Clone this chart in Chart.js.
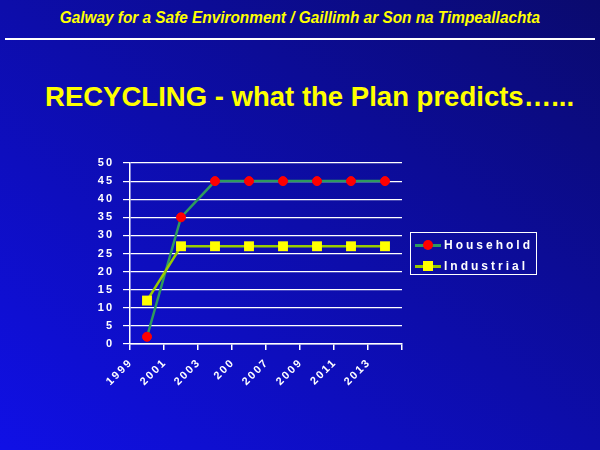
<!DOCTYPE html>
<html>
<head>
<meta charset="utf-8">
<script src="https://cdn.jsdelivr.net/npm/chart.js@4/dist/chart.umd.min.js"></script>
<style>
  html, body { margin: 0; padding: 0; }
  body {
    width: 600px; height: 450px; overflow: hidden; position: relative;
    background: linear-gradient(to bottom left, #0a0a6e, #1010e6);
    font-family: "Liberation Sans", Arial, sans-serif;
  }
  #header {
    position: absolute; left: 0; width: 600px; top: 10px;
    text-align: center; color: #ffff00; font-size: 16px; line-height: 16px;
    font-weight: bold; font-style: italic; letter-spacing: 0px; white-space: nowrap;
    transform: scaleX(0.96); transform-origin: 297px 0;
  }
  #rule { position: absolute; left: 5px; width: 590px; top: 38px; height: 2px; background: #fff; }
  #title {
    position: absolute; left: 45px; top: 83px; color: #ffff00; font-size: 28px; line-height: 28px;
    font-weight: bold; white-space: nowrap; transform: scaleX(0.983); transform-origin: 0 0;
  }
  #chart { position: absolute; left: 0; top: 0; }
  #legend {
    position: absolute; left: 410px; top: 232px; width: 125px; height: 41px;
    border: 1px solid #fff;
  }
  .item { position: absolute; left: 4px; height: 12px; width: 120px; }
  .line { position: absolute; left: 0; top: 5px; width: 26px; height: 2.5px; }
  .mark { position: absolute; }
  .txt { position: absolute; left: 29px; top: -2px; color: #fff; font-weight: bold;
    font-size: 12px; line-height: 16px; letter-spacing: 3px; white-space: nowrap; }
</style>
</head>
<body>
<div id="header">Galway for a Safe Environment / Gaillimh ar Son na Timpeallachta</div>
<div id="rule"></div>
<div id="title">RECYCLING - what the Plan predicts…...</div>
<canvas id="chart" width="600" height="450"></canvas>
<div id="legend"></div>
<script>
const years = ['1999', '2001', '2003', '200', '2007', '2009', '2011', '2013'];
const household = [2, 35, 45, 45, 45, 45, 45, 45];
const industrial = [12, 27, 27, 27, 27, 27, 27, 27];
const seriesNames = ['Household', 'Industrial'];
const yTicks = { min: 0, max: 50, step: 5 };

const householdColor = '#2e9a5e';
const industrialColor = '#99cc00';

const spacing = {
  id: 'spacing',
  beforeLayout(chart) { chart.ctx.letterSpacing = '2px'; },
  beforeDraw(chart) { chart.ctx.letterSpacing = '2px'; }
};

const tickFont = { family: '"Liberation Sans", Arial, sans-serif', size: 11, weight: 'bold' };

new Chart(document.getElementById('chart'), {
  type: 'line',
  data: {
    labels: years,
    datasets: [
      {
        label: seriesNames[0], data: household, order: 1,
        borderColor: householdColor, borderWidth: 2.5, tension: 0,
        pointStyle: 'circle', pointRadius: 4.5, pointBorderWidth: 1,
        pointBackgroundColor: '#ff0000', pointBorderColor: '#ff0000'
      },
      {
        label: seriesNames[1], data: industrial, order: 0,
        borderColor: industrialColor, borderWidth: 2.5, tension: 0,
        pointStyle: 'rect', pointRadius: 7, pointBorderWidth: 0,
        pointBackgroundColor: '#ffff00', pointBorderColor: '#ffff00'
      }
    ]
  },
  options: {
    responsive: false,
    animation: false,
    events: [],
    layout: { padding: { left: 70, right: 198, top: 163, bottom: 46 } },
    plugins: { legend: { display: false }, tooltip: { enabled: false } },
    scales: {
      x: {
        type: 'category', offset: true,
        afterFit(s) { s.height = 60; },
        grid: { offset: true, drawOnChartArea: false, drawTicks: true, tickLength: 6, color: '#ffffff', lineWidth: 1.5 },
        border: { color: '#ffffff', width: 1.5 },
        ticks: { color: '#ffffff', font: tickFont, minRotation: 45, maxRotation: 45, autoSkip: false, labelOffset: -16, padding: 6 }
      },
      y: {
        min: yTicks.min, max: yTicks.max,
        afterFit(s) { s.width = 60; },
        grid: { color: '#ffffff', lineWidth: 1.2, tickLength: 7, drawTicks: true },
        border: { color: '#ffffff', width: 1.5 },
        ticks: { stepSize: yTicks.step, color: '#ffffff', font: tickFont, padding: 9 }
      }
    }
  },
  plugins: [spacing]
});

// legend built from the series names
const legend = document.getElementById('legend');
const legendSpec = [
  { name: seriesNames[0], color: householdColor, mark: 'circle' },
  { name: seriesNames[1], color: industrialColor, mark: 'square' }
];
legendSpec.forEach((s, i) => {
  const item = document.createElement('div');
  item.className = 'item';
  item.style.top = (6 + i * 21) + 'px';
  const line = document.createElement('div');
  line.className = 'line';
  line.style.background = s.color;
  const mark = document.createElement('div');
  mark.className = 'mark';
  if (s.mark === 'circle') {
    Object.assign(mark.style, { left: '8px', top: '1px', width: '10px', height: '10px', borderRadius: '50%', background: '#ff0000' });
  } else {
    Object.assign(mark.style, { left: '8px', top: '1px', width: '10px', height: '10px', background: '#ffff00' });
  }
  const txt = document.createElement('div');
  txt.className = 'txt';
  txt.textContent = s.name;
  item.appendChild(line); item.appendChild(mark); item.appendChild(txt);
  legend.appendChild(item);
});
</script>
</body>
</html>
